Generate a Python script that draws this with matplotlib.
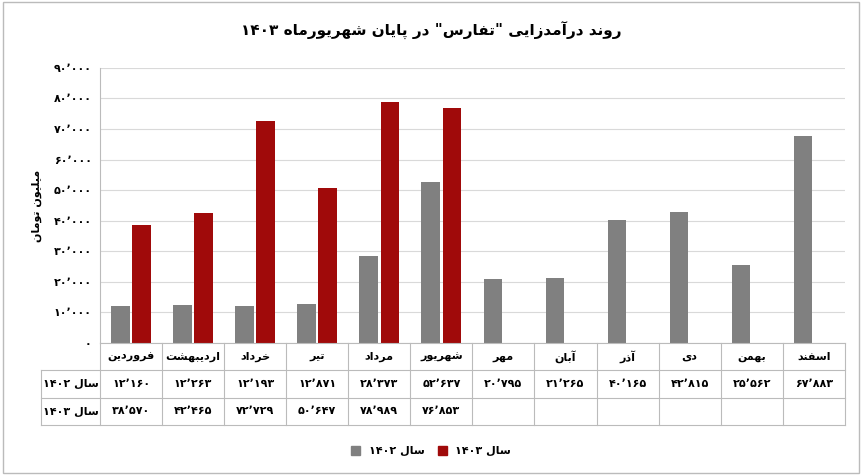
import matplotlib
matplotlib.use("Agg")
import matplotlib.pyplot as plt
from matplotlib.patches import Patch

months = ["فروردین", "اردیبهشت", "خرداد", "تیر", "مرداد", "شهریور",
          "مهر", "آبان", "آذر", "دی", "بهمن", "اسفند"]
rev_1402 = [12160, 12263, 12193, 12871, 28373, 52637, 20795, 21265, 40165, 42815, 25562, 67883]
rev_1403 = [38570, 42465, 72729, 50647, 78989, 76853]
yticks = list(range(0, 90001, 10000))

# minimal Persian shaping (presentation forms) since matplotlib has no shaper
FORMS = {  # iso, fin, ini, med
    "ا": ("\uFE8D", "\uFE8E", None, None), "آ": ("\uFE81", "\uFE82", None, None),
    "د": ("\uFEA9", "\uFEAA", None, None), "ذ": ("\uFEAB", "\uFEAC", None, None),
    "ر": ("\uFEAD", "\uFEAE", None, None), "ز": ("\uFEAF", "\uFEB0", None, None),
    "و": ("\uFEED", "\uFEEE", None, None),
    "ب": ("\uFE8F", "\uFE90", "\uFE91", "\uFE92"), "پ": ("\uFB56", "\uFB57", "\uFB58", "\uFB59"),
    "ت": ("\uFE95", "\uFE96", "\uFE97", "\uFE98"), "ن": ("\uFEE5", "\uFEE6", "\uFEE7", "\uFEE8"),
    "ی": ("\uFBFC", "\uFBFD", "\uFBFE", "\uFBFF"), "م": ("\uFEE1", "\uFEE2", "\uFEE3", "\uFEE4"),
    "ل": ("\uFEDD", "\uFEDE", "\uFEDF", "\uFEE0"), "س": ("\uFEB1", "\uFEB2", "\uFEB3", "\uFEB4"),
    "ش": ("\uFEB5", "\uFEB6", "\uFEB7", "\uFEB8"), "ف": ("\uFED1", "\uFED2", "\uFED3", "\uFED4"),
    "ه": ("\uFEE9", "\uFEEA", "\uFEEB", "\uFEEC"), "خ": ("\uFEA5", "\uFEA6", "\uFEA7", "\uFEA8"),
}


def joins_next(c):
    return c in FORMS and FORMS[c][2] is not None


def shape(s):
    out = []
    for i, c in enumerate(s):
        if c not in FORMS:
            out.append(c)
            continue
        prev = s[i - 1] if i > 0 else ""
        nxt = s[i + 1] if i + 1 < len(s) else ""
        jp = joins_next(prev)
        jn = joins_next(c) and nxt in FORMS
        iso, fin, ini, med = FORMS[c]
        if jp and jn:
            out.append(med)
        elif jp:
            out.append(fin)
        elif jn:
            out.append(ini)
        else:
            out.append(iso)
    return "".join(out)


def fa_text(s):
    s = shape(s)
    tokens, cur, cur_d = [], "", None
    for c in s:
        d = c in "۰۱۲۳۴۵۶۷۸۹٬"
        if cur and d != cur_d:
            tokens.append((cur, cur_d))
            cur = ""
        cur += c
        cur_d = d
    if cur:
        tokens.append((cur, cur_d))
    res = [t if d else t[::-1] for t, d in reversed(tokens)]
    res = "".join(res)
    return res.replace('"', '"')


def fa_num(n):
    s = f"{n:,}".replace(",", "٬")
    return s.translate(str.maketrans("0123456789", "۰۱۲۳۴۵۶۷۸۹"))


GRAY = "#808080"
RED = "#a00a0a"
plt.rcParams["font.family"] = ["DejaVu Sans"]

fig = plt.figure(figsize=(8.62, 4.75), dpi=100)
fig.patches.append(plt.Rectangle((0.003, 0.004), 0.994, 0.992, transform=fig.transFigure,
                                 fill=False, edgecolor="#bbbbbb", lw=1))

ax = fig.add_axes([0.116, 0.278, 0.864, 0.579])
x = list(range(len(months)))
w = 0.3
ax.bar([i - 0.17 for i in x], rev_1402, width=w, color=GRAY, zorder=3)
ax.bar([i + 0.17 for i in range(len(rev_1403))], rev_1403, width=w, color=RED, zorder=3)
ax.set_xlim(-0.5, 11.5)
ax.set_ylim(0, 90000)
ax.set_yticks(yticks)
ax.set_yticklabels([fa_num(v) for v in yticks], fontsize=8, fontweight="bold")
ax.set_xticks([])
ax.grid(axis="y", color="#d9d9d9", lw=0.8, zorder=0)
for s in ["top", "right", "bottom"]:
    ax.spines[s].set_visible(False)
ax.spines["left"].set_color("#bbbbbb")
ax.tick_params(axis="y", length=0, pad=6)
ax.set_ylabel(fa_text("میلیون تومان"), fontsize=8, fontweight="bold", labelpad=8)

# data table
tb = fig.add_axes([0.116, 0.105, 0.864, 0.173])
tb.set_xlim(-0.5, 11.5)
tb.set_ylim(0, 3)
tb.axis("off")
lc = "#bbbbbb"
for yy in [0, 1, 2, 3]:
    x0 = -1.45 if yy < 3 else -0.5
    tb.plot([x0, 11.5], [yy, yy], color=lc, lw=0.8, clip_on=False)
for i in range(13):
    tb.plot([i - 0.5, i - 0.5], [0, 3], color=lc, lw=0.8, clip_on=False)
tb.plot([-1.45, -1.45], [0, 2], color=lc, lw=0.8, clip_on=False)
for i, m in enumerate(months):
    tb.text(i, 2.5, fa_text(m), ha="center", va="center", fontsize=8, fontweight="bold")
    tb.text(i, 1.5, fa_num(rev_1402[i]), ha="center", va="center", fontsize=8, fontweight="bold")
for i, v in enumerate(rev_1403):
    tb.text(i, 0.5, fa_num(v), ha="center", va="center", fontsize=8, fontweight="bold")
tb.text(-0.97, 1.5, fa_text("سال ۱۴۰۲"), ha="center", va="center", fontsize=8, fontweight="bold")
tb.text(-0.97, 0.5, fa_text("سال ۱۴۰۳"), ha="center", va="center", fontsize=8, fontweight="bold")

fig.text(0.5, 0.935, fa_text('روند درآمدزایی "تفارس" در پایان شهریورماه ۱۴۰۳'),
         ha="center", va="center", fontsize=11, fontweight="bold")

handles = [Patch(color=GRAY), Patch(color=RED)]
fig.legend(handles, [fa_text("سال ۱۴۰۲"), fa_text("سال ۱۴۰۳")], loc="center",
           bbox_to_anchor=(0.5, 0.05), ncol=2, frameon=False, fontsize=8,
           handlelength=0.8, handleheight=0.8, columnspacing=1.2,
           prop={"weight": "bold", "size": 8})

fig.savefig("out.png", dpi=100)
